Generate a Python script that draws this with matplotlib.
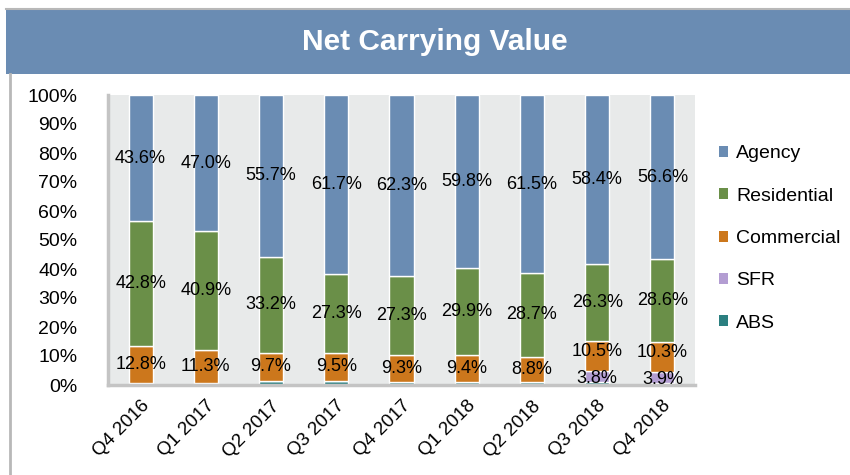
import numpy as np
import matplotlib.pyplot as plt
from matplotlib.patches import Rectangle
from matplotlib.lines import Line2D

# Data (percent of net carrying value)
quarters = ['Q4 2016', 'Q1 2017', 'Q2 2017', 'Q3 2017', 'Q4 2017',
            'Q1 2018', 'Q2 2018', 'Q3 2018', 'Q4 2018']
agency = [43.6, 47.0, 55.7, 61.7, 62.3, 59.8, 61.5, 58.4, 56.6]
residential = [42.8, 40.9, 33.2, 27.3, 27.3, 29.9, 28.7, 26.3, 28.6]
commercial = [12.8, 11.3, 9.7, 9.5, 9.3, 9.4, 8.8, 10.5, 10.3]
sfr = [0.0, 0.0, 0.0, 0.0, 0.0, 0.0, 0.0, 3.8, 3.9]
abs_ = [0.8, 0.8, 1.4, 1.5, 1.1, 0.9, 1.0, 1.0, 0.6]

colors = {'Agency': '#6a8cb3', 'Residential': '#6a8f48', 'Commercial': '#cc771c',
          'SFR': '#b39dd2', 'ABS': '#2b7f80'}

plt.rcParams['font.family'] = ['Liberation Sans', 'DejaVu Sans']

fig = plt.figure(figsize=(8.5, 4.75), dpi=100)

# title band and frame
fig.patches.append(Rectangle((6 / 850, 1 - 74 / 475), 1, 64 / 475, transform=fig.transFigure,
                             facecolor='#6a8cb3', edgecolor='none', zorder=0))
fig.lines.append(Line2D([6 / 850, 1], [1 - 9 / 475, 1 - 9 / 475], transform=fig.transFigure,
                        color='#b8b8b8', lw=1.5))
fig.lines.append(Line2D([10 / 850, 10 / 850], [0, 1 - 74 / 475], transform=fig.transFigure,
                        color='#b8b8b8', lw=2))
fig.text(0.512, 1 - 42 / 475, 'Net Carrying Value', ha='center', va='center',
         color='white', fontsize=21.5, fontweight='bold')

ax = fig.add_axes([108 / 850, 1 - 385 / 475, 587 / 850, 290 / 475])
ax.set_facecolor('#e8eaea')

x = np.arange(len(quarters))
series = [('ABS', abs_), ('SFR', sfr), ('Commercial', commercial),
          ('Residential', residential), ('Agency', agency)]
totals = np.sum([np.array(v) for _, v in series], axis=0)
bottom = np.zeros(len(quarters))
handles = {}
for name, vals in series:
    h = np.array(vals) / totals * 100
    b = ax.bar(x, h, 0.37, bottom=bottom, color=colors[name], edgecolor='white', linewidth=1)
    handles[name] = b
    for i, v in enumerate(vals):
        if name == 'ABS' or v == 0:
            continue
        yc = bottom[i] + h[i] / 2
        if name == 'SFR':
            yc = bottom[i] + h[i] / 2 - 0.8
        elif name == 'Commercial' and sfr[i] > 0:
            yc += 1.5
        ax.text(x[i], yc, f'{v:.1f}%', ha='center', va='center', fontsize=13)
    bottom += h

ax.set_xlim(-0.5, 8.5)
ax.set_ylim(0, 100)
ax.set_yticks(np.arange(0, 101, 10))
ax.set_yticklabels([f'{t}%' for t in range(0, 101, 10)], fontsize=14)
ax.set_xticks(x)
ax.set_xticklabels(quarters, rotation=45, ha='right', rotation_mode='anchor', fontsize=13.5)
ax.tick_params(length=0)
ax.tick_params(axis='y', pad=22)
ax.tick_params(axis='x', pad=9)
for s in ['top', 'right']:
    ax.spines[s].set_visible(False)
for s in ['left', 'bottom']:
    ax.spines[s].set_color('#c4c4c4')
    ax.spines[s].set_linewidth(2.5)

order = ['Agency', 'Residential', 'Commercial', 'SFR', 'ABS']
leg = fig.legend([handles[n] for n in order], order, loc='upper left',
                 bbox_to_anchor=(701 / 850, 1 - 128 / 475), frameon=False, fontsize=14,
                 handlelength=0.5, handleheight=0.5, handletextpad=0.4, labelspacing=1.3)
for p in leg.get_patches():
    p.set_edgecolor('none')

fig.savefig('out.png', dpi=100)
